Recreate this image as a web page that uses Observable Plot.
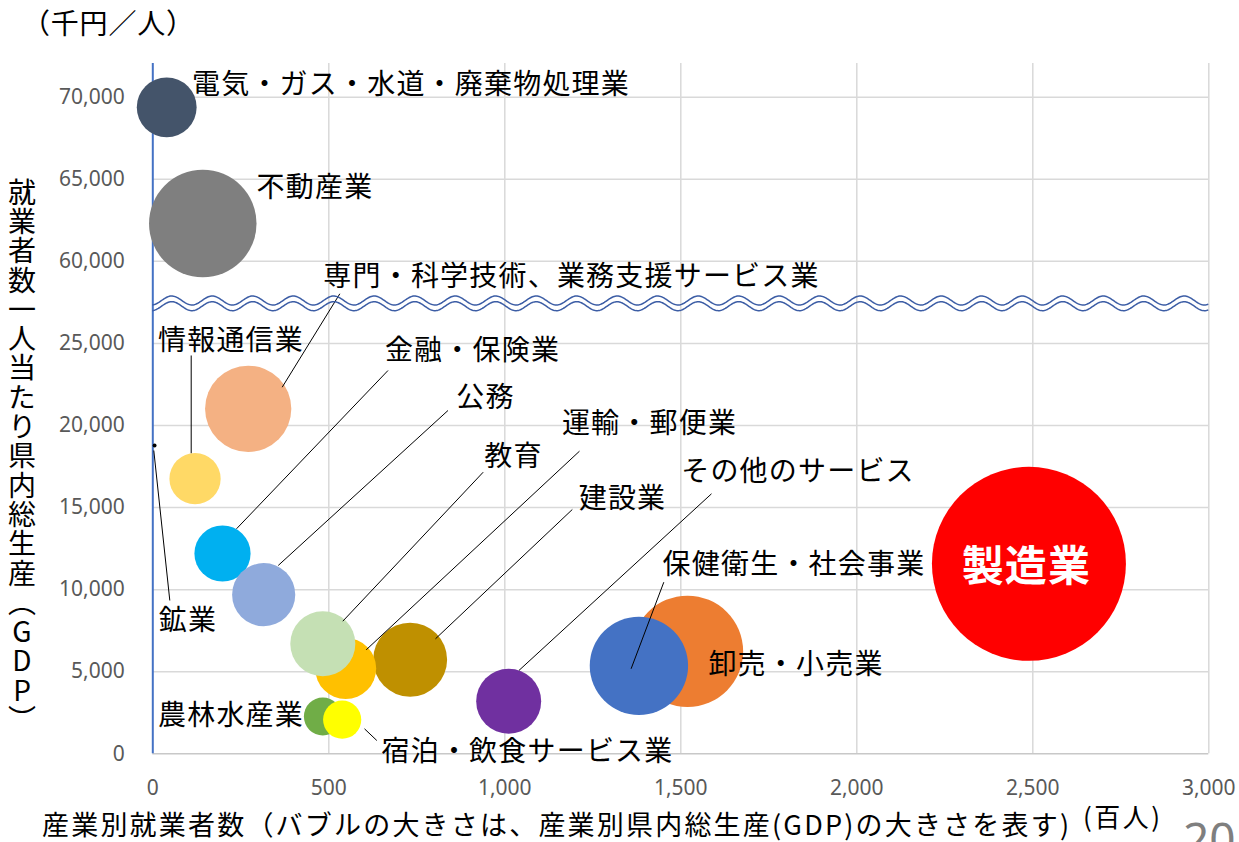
<!DOCTYPE html>
<html><head><meta charset="utf-8">
<script src="https://cdn.jsdelivr.net/npm/d3@7"></script>
<script src="https://cdn.jsdelivr.net/npm/@observablehq/plot@0.6"></script>
<style>
html,body{margin:0;padding:0;background:#fff;}
#wrap{position:relative;width:1239px;height:842px;overflow:hidden;background:#fff;}
#ytitle{position:absolute;left:8px;top:178px;writing-mode:vertical-rl;text-orientation:upright;font-family:"Noto Sans CJK JP",sans-serif;font-size:28px;line-height:28px;color:#000;letter-spacing:1.3px;}
#wrap svg{position:absolute;left:0;top:0;}
</style></head><body>
<div id="wrap"><div id="ytitle">就業者数一人当たり県内総生産（GDP）</div></div>
<script>
// ---- data ----
const industries = ["電気・ガス・水道・廃棄物処理業","不動産業","専門・科学技術、業務支援サービス業","情報通信業","金融・保険業","公務","建設業","運輸・郵便業","教育","その他のサービス","卸売・小売業","保健衛生・社会事業","製造業","鉱業","農林水産業","宿泊・飲食サービス業"];
const employees = [39.5,142,271,120,198,315,731,548,483,1011,1519,1381,2489,5,483,538];          // 百人
const gdpPerWorker = [69387,62308,21019,16760,12203,9693,5733,5197,6708,3198,6245,5361,11576,18783,2272,2077]; // 千円/人
const gdp = [2741,8848,5696,2011,2416,3053,4191,2848,3240,3233,9486,7404,28813,12,1097,1117];     // 億円 (bubble size)
const colors = ["#44546A","#7F7F7F","#F4B183","#FFD966","#00B0F0","#8FAADC","#BF9000","#FFC000","#C5E0B4","#7030A0","#ED7D31","#4472C4","#FF0000","#000000","#70AD47","#FFFF00"];
const xTicks = [0,500,1000,1500,2000,2500,3000];
const yTicks = [0,5000,10000,15000,20000,25000,60000,65000,70000];

// ---- annotation layout (chart units; upper band shown shifted down by 30,000) ----
const labelX = [733.5,460.8,1189.5,222.2,908.2,945.2,1334.4,1411,1024.7,1833,1827.3,1821.6,2482,100,222.2,1064.5];
const labelY = [40715,34440,29036,25119,24528,21646,15536,20105,18070,17156,5380,11472,11350,8060,2272,97];
const leaders = [
  [531.3,28025,367.6,22334],[109.1,24266,109.1,18314],[668.2,23352,237.8,13708],
  [838.6,20915,356.3,11472],[938.6,17156,539.8,8079],[1212.2,18436,606.3,6336],
  [1191.8,14884,803.1,7006],[1587.2,15840,1040.1,5075],[1451.7,10455,1358.8,5179],
  [2.8,18478,48.3,9340],[601.4,1523,636.4,810]
];

const GAP = 30000;
const toDisplay = v => v >= 60000 ? v - GAP : v;
const fromDisplay = d => d >= 30000 ? d + GAP : d;
const Y_TOP = 42055;

const rows = industries.map((name,i) => ({name, x: employees[i], y: toDisplay(gdpPerWorker[i]), gdp: gdp[i], color: colors[i]}));
const labelRows = industries.map((name,i) => ({name, x: labelX[i], y: labelY[i]}));
const normalLabels = labelRows.filter(d => d.name !== "製造業");
const bigLabel = labelRows.filter(d => d.name === "製造業");
const linkRows = leaders.map(([x1,y1,x2,y2]) => ({x1,y1,x2,y2}));

const chart = Plot.plot({
  width: 1239, height: 842,
  marginLeft: 152.3, marginRight: 30.7, marginTop: 63, marginBottom: 88.7,
  style: {fontFamily: '"Noto Sans", sans-serif', fontSize: "21px", color: "#595959", background: "transparent", overflow: "visible"},
  x: {domain: [0,3000], ticks: xTicks, tickFormat: d3.format(","), tickSize: 0, tickPadding: 26, label: null},
  y: {domain: [0,Y_TOP], ticks: yTicks.map(toDisplay), tickFormat: d => d3.format(",")(fromDisplay(d)), tickSize: 0, tickPadding: 28, label: null},
  r: {domain: [0, 28813], range: [0, 97]},
  color: {type: "identity"},
  marks: [
    Plot.ruleX(xTicks.filter(d => d > 0), {y1: 0, y2: Y_TOP, stroke: "#d9d9d9", strokeWidth: 1.5}),
    Plot.ruleY(yTicks.filter(d => d > 0).map(toDisplay), {x1: 0, x2: 3000, stroke: "#d9d9d9", strokeWidth: 1.5}),
    Plot.ruleY([0], {x1: 0, x2: 3000, stroke: "#c8c8c8", strokeWidth: 1.5}),
    Plot.ruleX([0], {y1: 0, y2: Y_TOP, stroke: "#4472C4", strokeWidth: 2}),
    Plot.dot(rows, {x: "x", y: "y", r: "gdp", fill: "color", stroke: null, sort: null}),
    Plot.link(linkRows, {x1: "x1", y1: "y1", x2: "x2", y2: "y2", stroke: "#000", strokeWidth: 1}),
    Plot.text(normalLabels, {x: "x", y: "y", text: "name", fill: "#000", fontSize: 28, fontFamily: '"Noto Sans CJK JP", sans-serif', textAnchor: "middle"}),
    Plot.text(bigLabel, {x: "x", y: "y", text: "name", fill: "#fff", fontSize: 42, fontWeight: "bold", fontFamily: '"Noto Sans CJK JP", sans-serif', textAnchor: "middle"})
  ]
});

document.getElementById("wrap").appendChild(chart);

// axis-break wavy lines
const sx = chart.scale("x"), sy = chart.scale("y");
const svg = d3.select(chart);
const px0 = sx.apply(0), px1 = sx.apply(3000);
function wave(yc) {
  const pts = d3.range(px0, px1 + 0.5, 1).map(px => [px, yc - 4.5 * Math.cos(2 * Math.PI * (px - 171.7) / 40.5)]);
  return d3.line()(pts);
}
[27586, 27239].forEach(v => {
  svg.append("path").attr("d", wave(sy.apply(v))).attr("fill", "none").attr("stroke", "#3C5DA5").attr("stroke-width", 1.5);
});

// titles
const jp = '"Noto Sans CJK JP", sans-serif';
svg.append("text").attr("x", 22).attr("y", 22).attr("dominant-baseline", "central").attr("text-anchor", "start")
  .attr("font-family", jp).attr("font-size", 28).attr("fill", "#000").style("letter-spacing", "0.8px").text("（千円／人）");
svg.append("text").attr("x", 42).attr("y", 823).attr("dominant-baseline", "central").attr("text-anchor", "start")
  .attr("font-family", jp).attr("font-size", 27).attr("fill", "#000").style("letter-spacing", "2.2px")
  .text("産業別就業者数（バブルの大きさは、産業別県内総生産(GDP)の大きさを表す)");
svg.append("text").attr("x", 1083).attr("y", 815).attr("dominant-baseline", "central").attr("text-anchor", "start")
  .attr("font-family", jp).attr("font-size", 26).attr("fill", "#000").style("letter-spacing", "2.5px").text("(百人)");
svg.append("text").attr("x", 1183).attr("y", 856).attr("text-anchor", "start")
  .attr("font-family", '"Noto Sans", sans-serif').attr("font-size", 46).attr("fill", "#7f7f7f").text("20");

// letter spacing for the category labels
svg.selectAll('g[aria-label="text"] text').style("letter-spacing", "1.2px");
</script>
</body></html>
